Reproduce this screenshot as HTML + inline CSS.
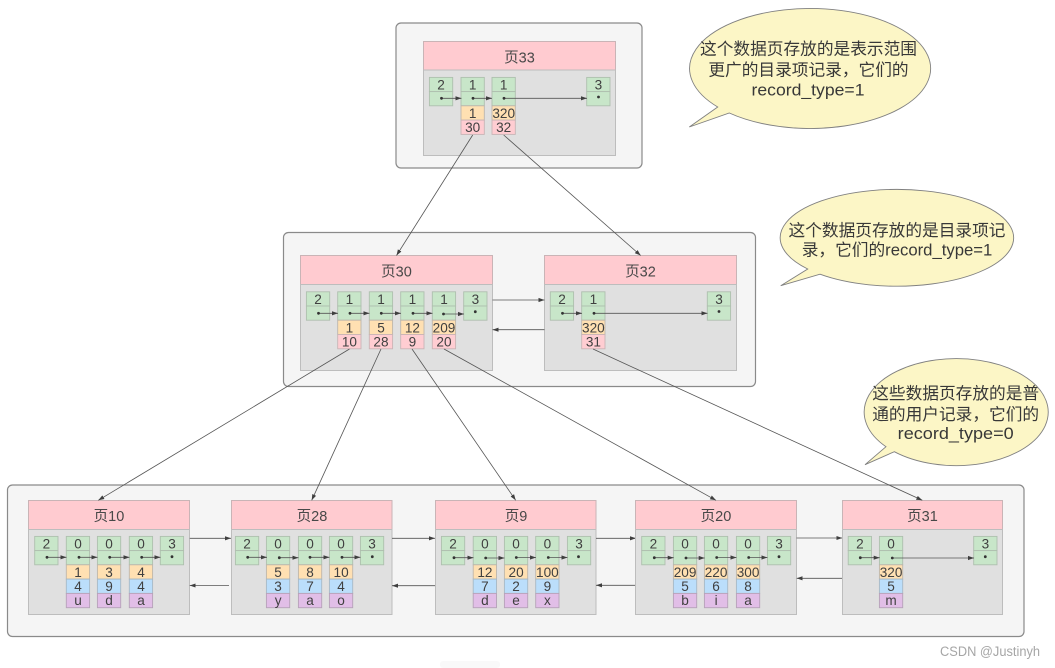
<!DOCTYPE html>
<html><head><meta charset="utf-8"><style>
html,body{margin:0;padding:0;background:#fff}
svg{display:block}
text{font-family:"Liberation Sans","Noto Sans CJK SC",sans-serif;fill:#404040;text-anchor:middle}
circle{r:1.4px}
.c text{font-size:13.6px}
.h{font-size:14.5px;fill:#484848}
.b{font-size:16.7px;fill:#383838}
.box{fill:#f5f5f5;stroke:#8a8a8a;stroke-width:1.2}
.hd{fill:#ffcbd0;stroke:#c9b4b6;stroke-width:1}
.bd{fill:#e0e0e0;stroke:#bdbdbd;stroke-width:1}
.l{stroke:#555;stroke-width:.8;fill:none;marker-end:url(#a)}
.bub{fill:#fcf6c6;stroke:#808080;stroke-width:.9}
.g{fill:#c8e6c9;stroke:#aebfae;stroke-width:.9}
.o{fill:#ffe0b2;stroke:#bdb6ac;stroke-width:.9}
.u{fill:#bbdefb;stroke:#a8b8c4;stroke-width:.9}
.p{fill:#e1bee7;stroke:#b5a2b8;stroke-width:.9}
.r{fill:#ffcdd2;stroke:#c9b4b6;stroke-width:.9}
</style></head><body>
<svg width="1055" height="668" viewBox="0 0 1055 668" xmlns="http://www.w3.org/2000/svg">
<defs>
<marker id="a" markerUnits="userSpaceOnUse" markerWidth="7" markerHeight="6" refX="6" refY="2.5" orient="auto"><path d="M0,0.4L6,2.5L0,4.6Z" fill="#3f3f3f"/></marker>
<g id="k"><rect class="g" width="23.3" height="14.2"/><rect class="g" y="14.2" width="23.3" height="14.2"/></g>
<rect id="O" class="o" y="28.4" width="23.3" height="14.3"/>
<rect id="U" class="u" y="42.7" width="23.3" height="14.3"/>
<rect id="P" class="p" y="57" width="23.3" height="14.3"/>
<rect id="R" class="r" y="42.7" width="23.3" height="14.3"/>
</defs>

<rect x="396" y="23" width="246" height="145" rx="5" class="box"/>
<rect x="283.5" y="232.5" width="472" height="154" rx="5" class="box"/>
<rect x="7.5" y="485" width="1016.5" height="151.5" rx="5" class="box"/>

<!-- Page 33 -->
<rect x="423.5" y="41.5" width="192" height="28.5" class="hd"/>
<rect x="423.5" y="70" width="192" height="85.5" class="bd"/>
<text class="h" x="519.5" y="62.5">页33</text>
<g class="c">
<g transform="translate(429.4,77.4)"><use href="#k"/><text x="11.7" y="12">2</text></g>
<g transform="translate(461,77.4)"><use href="#k"/><use href="#O"/><use href="#R"/><text x="11.7" y="12">1</text><text x="11.7" y="40.5">1</text><text x="11.7" y="54.8">30</text></g>
<g transform="translate(492,77.4)"><use href="#k"/><use href="#O"/><use href="#R"/><text x="11.7" y="12">1</text><text x="11.7" y="40.5">320</text><text x="11.7" y="54.8">32</text></g>
<g transform="translate(586.7,77.4)"><use href="#k"/><text x="11.7" y="12">3</text></g>
</g>
<path class="l" d="M441.5,98.3H461.5"/><path class="l" d="M473,98.3H492"/><path class="l" d="M504,98.3H587"/>
<g fill="#333"><circle cx="441.5" cy="98.3" r="1.2"/><circle cx="473" cy="98.3" r="1.2"/><circle cx="504" cy="98.3" r="1.2"/><circle cx="598.5" cy="97" r="1.2"/></g>

<!-- Page 30 -->
<rect x="300.5" y="255.5" width="192" height="29" class="hd"/>
<rect x="300.5" y="284.5" width="192" height="86" class="bd"/>
<text class="h" x="396.5" y="276.5">页30</text>
<g class="c">
<g transform="translate(306.4,291.8)"><use href="#k"/><text x="11.7" y="12">2</text></g>
<g transform="translate(337.7,291.8)"><use href="#k"/><use href="#O"/><use href="#R"/><text x="11.7" y="12">1</text><text x="11.7" y="40.5">1</text><text x="11.7" y="54.8">10</text></g>
<g transform="translate(369.3,291.8)"><use href="#k"/><use href="#O"/><use href="#R"/><text x="11.7" y="12">1</text><text x="11.7" y="40.5">5</text><text x="11.7" y="54.8">28</text></g>
<g transform="translate(400.7,291.8)"><use href="#k"/><use href="#O"/><use href="#R"/><text x="11.7" y="12">1</text><text x="11.7" y="40.5">12</text><text x="11.7" y="54.8">9</text></g>
<g transform="translate(432.3,291.8)"><use href="#k"/><use href="#O"/><use href="#R"/><text x="11.7" y="12">1</text><text x="11.7" y="40.5">209</text><text x="11.7" y="54.8">20</text></g>
<g transform="translate(463.7,291.8)"><use href="#k"/><text x="11.7" y="12">3</text></g>
</g>
<path class="l" d="M318.5,313.3H338"/><path class="l" d="M350,313.3H369.5"/><path class="l" d="M381.3,313.3H401"/><path class="l" d="M413,313.3H432.5"/><path class="l" d="M443.5,314H464"/>
<g fill="#333"><circle cx="318.5" cy="313.3" r="1.2"/><circle cx="350" cy="313.3" r="1.2"/><circle cx="381.3" cy="313.3" r="1.2"/><circle cx="413" cy="313.3" r="1.2"/><circle cx="443.5" cy="314" r="1.2"/><circle cx="475.3" cy="311.7" r="1.2"/></g>

<!-- Page 32 -->
<rect x="544.5" y="255.5" width="192" height="29" class="hd"/>
<rect x="544.5" y="284.5" width="192" height="86" class="bd"/>
<text class="h" x="640.5" y="276.5">页32</text>
<g class="c">
<g transform="translate(550.3,291.8)"><use href="#k"/><text x="11.7" y="12">2</text></g>
<g transform="translate(581.7,291.8)"><use href="#k"/><use href="#O"/><use href="#R"/><text x="11.7" y="12">1</text><text x="11.7" y="40.5">320</text><text x="11.7" y="54.8">31</text></g>
<g transform="translate(707.3,291.8)"><use href="#k"/><text x="11.7" y="12">3</text></g>
</g>
<path class="l" d="M562.5,313.3H582"/><path class="l" d="M594,313.3H707.5"/>
<g fill="#333"><circle cx="562.5" cy="313.3" r="1.2"/><circle cx="594" cy="313.3" r="1.2"/><circle cx="719" cy="311.5" r="1.2"/></g>
<path class="l" d="M492.5,300H544.5"/><path class="l" d="M544.5,329.7H492.5"/>

<!-- Page 10 -->
<rect x="28.5" y="500.5" width="161" height="29" class="hd"/>
<rect x="28.5" y="529.5" width="161" height="85" class="bd"/>
<text class="h" x="109" y="521">页10</text>
<g class="c">
<g transform="translate(34.7,536.4)"><use href="#k"/><text x="11.7" y="12">2</text></g>
<g transform="translate(66.3,536.4)"><use href="#k"/><use href="#O"/><use href="#U"/><use href="#P"/><text x="11.7" y="12">0</text><text x="11.7" y="40.5">1</text><text x="11.7" y="54.8">4</text><text x="11.7" y="68.6">u</text></g>
<g transform="translate(97.4,536.4)"><use href="#k"/><use href="#O"/><use href="#U"/><use href="#P"/><text x="11.7" y="12">0</text><text x="11.7" y="40.5">3</text><text x="11.7" y="54.8">9</text><text x="11.7" y="68.6">d</text></g>
<g transform="translate(129.3,536.4)"><use href="#k"/><use href="#O"/><use href="#U"/><use href="#P"/><text x="11.7" y="12">0</text><text x="11.7" y="40.5">4</text><text x="11.7" y="54.8">4</text><text x="11.7" y="68.6">a</text></g>
<g transform="translate(160.3,536.4)"><use href="#k"/><text x="11.7" y="12">3</text></g>
</g>
<path class="l" d="M47,557.3H66.5"/><path class="l" d="M79,557.3H97.5"/><path class="l" d="M109.7,557.3H129.5"/><path class="l" d="M141.7,557.3H160.5"/>
<g fill="#333"><circle cx="47" cy="557.3" r="1.2"/><circle cx="79" cy="557.3" r="1.2"/><circle cx="109.7" cy="557.3" r="1.2"/><circle cx="141.7" cy="557.3" r="1.2"/><circle cx="172" cy="556.7" r="1.2"/></g>
<path class="l" d="M189.7,538.3H231"/><path class="l" d="M229,585.5H189.7"/>

<!-- Page 28 -->
<rect x="231.5" y="500.5" width="160.5" height="29" class="hd"/>
<rect x="231.5" y="529.5" width="160.5" height="85" class="bd"/>
<text class="h" x="312" y="521">页28</text>
<g class="c">
<g transform="translate(235.4,536.4)"><use href="#k"/><text x="11.7" y="12">2</text></g>
<g transform="translate(266.4,536.4)"><use href="#k"/><use href="#O"/><use href="#U"/><use href="#P"/><text x="11.7" y="12">0</text><text x="11.7" y="40.5">5</text><text x="11.7" y="54.8">3</text><text x="11.7" y="68.6">y</text></g>
<g transform="translate(298.4,536.4)"><use href="#k"/><use href="#O"/><use href="#U"/><use href="#P"/><text x="11.7" y="12">0</text><text x="11.7" y="40.5">8</text><text x="11.7" y="54.8">7</text><text x="11.7" y="68.6">a</text></g>
<g transform="translate(329.4,536.4)"><use href="#k"/><use href="#O"/><use href="#U"/><use href="#P"/><text x="11.7" y="12">0</text><text x="11.7" y="40.5">10</text><text x="11.7" y="54.8">4</text><text x="11.7" y="68.6">o</text></g>
<g transform="translate(360.4,536.4)"><use href="#k"/><text x="11.7" y="12">3</text></g>
</g>
<path class="l" d="M247.7,557.3H267"/><path class="l" d="M279.3,557.7H298.5"/><path class="l" d="M310,557.3H329.5"/><path class="l" d="M342,557.3H360.5"/>
<g fill="#333"><circle cx="247.7" cy="557.3" r="1.2"/><circle cx="279.3" cy="557.7" r="1.2"/><circle cx="310" cy="557.3" r="1.2"/><circle cx="342" cy="557.3" r="1.2"/><circle cx="372.3" cy="556.7" r="1.2"/></g>
<path class="l" d="M392,538.3H435"/><path class="l" d="M435,585.7H392"/>

<!-- Page 9 -->
<rect x="435.5" y="500.5" width="160.5" height="29" class="hd"/>
<rect x="435.5" y="529.5" width="160.5" height="85" class="bd"/>
<text class="h" x="516" y="521">页9</text>
<g class="c">
<g transform="translate(441.4,536.4)"><use href="#k"/><text x="11.7" y="12">2</text></g>
<g transform="translate(473.2,536.4)"><use href="#k"/><use href="#O"/><use href="#U"/><use href="#P"/><text x="11.7" y="12">0</text><text x="11.7" y="40.5">12</text><text x="11.7" y="54.8">7</text><text x="11.7" y="68.6">d</text></g>
<g transform="translate(504.4,536.4)"><use href="#k"/><use href="#O"/><use href="#U"/><use href="#P"/><text x="11.7" y="12">0</text><text x="11.7" y="40.5">20</text><text x="11.7" y="54.8">2</text><text x="11.7" y="68.6">e</text></g>
<g transform="translate(535.7,536.4)"><use href="#k"/><use href="#O"/><use href="#U"/><use href="#P"/><text x="11.7" y="12">0</text><text x="11.7" y="40.5">100</text><text x="11.7" y="54.8">9</text><text x="11.7" y="68.6">x</text></g>
<g transform="translate(567.4,536.4)"><use href="#k"/><text x="11.7" y="12">3</text></g>
</g>
<path class="l" d="M454,557.7H473.5"/><path class="l" d="M485.7,558H504.5"/><path class="l" d="M516.3,557.5H536"/><path class="l" d="M548.3,557.5H567.5"/>
<g fill="#333"><circle cx="454" cy="557.7" r="1.2"/><circle cx="485.7" cy="558" r="1.2"/><circle cx="516.3" cy="557.5" r="1.2"/><circle cx="548.3" cy="557.5" r="1.2"/><circle cx="578.5" cy="556.7" r="1.2"/></g>
<path class="l" d="M596,538.3H636"/><path class="l" d="M635.5,585.3H596"/>

<!-- Page 20 -->
<rect x="635.5" y="500.5" width="161" height="29" class="hd"/>
<rect x="635.5" y="529.5" width="161" height="85" class="bd"/>
<text class="h" x="716" y="521">页20</text>
<g class="c">
<g transform="translate(641.7,536.4)"><use href="#k"/><text x="11.7" y="12">2</text></g>
<g transform="translate(673.4,536.4)"><use href="#k"/><use href="#O"/><use href="#U"/><use href="#P"/><text x="11.7" y="12">0</text><text x="11.7" y="40.5">209</text><text x="11.7" y="54.8">5</text><text x="11.7" y="68.6">b</text></g>
<g transform="translate(704.4,536.4)"><use href="#k"/><use href="#O"/><use href="#U"/><use href="#P"/><text x="11.7" y="12">0</text><text x="11.7" y="40.5">220</text><text x="11.7" y="54.8">6</text><text x="11.7" y="68.6">i</text></g>
<g transform="translate(736.4,536.4)"><use href="#k"/><use href="#O"/><use href="#U"/><use href="#P"/><text x="11.7" y="12">0</text><text x="11.7" y="40.5">300</text><text x="11.7" y="54.8">8</text><text x="11.7" y="68.6">a</text></g>
<g transform="translate(767.4,536.4)"><use href="#k"/><text x="11.7" y="12">3</text></g>
</g>
<path class="l" d="M654.3,557.7H673.7"/><path class="l" d="M686,558H704.7"/><path class="l" d="M716.7,557.5H736.5"/><path class="l" d="M748.7,557.5H767.5"/>
<g fill="#333"><circle cx="654.3" cy="557.7" r="1.2"/><circle cx="686" cy="558" r="1.2"/><circle cx="716.7" cy="557.5" r="1.2"/><circle cx="748.7" cy="557.5" r="1.2"/><circle cx="779" cy="556.7" r="1.2"/></g>
<path class="l" d="M796.5,538H842.3"/><path class="l" d="M842.3,578.3H796.7"/>

<!-- Page 31 -->
<rect x="842.5" y="500.5" width="160" height="29" class="hd"/>
<rect x="842.5" y="529.5" width="160" height="85" class="bd"/>
<text class="h" x="922.5" y="521">页31</text>
<g class="c">
<g transform="translate(848.2,536.4)"><use href="#k"/><text x="11.7" y="12">2</text></g>
<g transform="translate(879.4,536.4)"><use href="#k"/><use href="#O"/><use href="#U"/><use href="#P"/><text x="11.7" y="12">0</text><text x="11.7" y="40.5">320</text><text x="11.7" y="54.8">5</text><text x="11.7" y="68.6">m</text></g>
<g transform="translate(973.7,536.4)"><use href="#k"/><text x="11.7" y="12">3</text></g>
</g>
<path class="l" d="M860.3,557.7H879.7"/><path class="l" d="M892.3,558H974"/>
<g fill="#333"><circle cx="860.3" cy="557.7" r="1.2"/><circle cx="892.3" cy="558" r="1.2"/><circle cx="985.3" cy="556.7" r="1.2"/></g>

<!-- Tree connectors -->
<path class="l" d="M472.7,135L396.5,255.5"/>
<path class="l" d="M503.7,135L640.7,255.5"/>
<path class="l" d="M349.5,349L98.3,500.3"/>
<path class="l" d="M381,349L311.7,500.3"/>
<path class="l" d="M412,349L515.7,500.3"/>
<path class="l" d="M444,349L716,500.3"/>
<path class="l" d="M593,349L922.3,500.3"/>

<!-- Callouts -->
<path class="bub" d="M689.3,127L717.7,107A120.5,60 0 1 1 729.3,113Z"/>
<text class="b" x="808.5" y="54.5">这个数据页存放的是表示范围</text>
<text class="b" x="808.5" y="75.5">更广的目录项记录，它们的</text>
<text class="b" x="808" y="95.7" textLength="113" lengthAdjust="spacingAndGlyphs">record_type=1</text>

<path class="bub" d="M780.7,285.7L807.7,269A116.7,48.4 0 1 1 820,274.2Z"/>
<text class="b" x="897" y="236">这个数据页存放的是目录项记</text>
<text class="b" x="897" y="255.5">录，它们的record_type=1</text>

<path class="bub" d="M865,464.7L886,446.7A92,53.5 0 1 1 894.3,451.7Z"/>
<text class="b" x="955.7" y="399">这些数据页存放的是普</text>
<text class="b" x="955.7" y="420">通的用户记录，它们的</text>
<text class="b" x="955.7" y="439" textLength="116" lengthAdjust="spacingAndGlyphs">record_type=0</text>

<rect x="440" y="661" width="60" height="7" rx="3" fill="#f9f9f9"/>
<text x="990" y="656" style="font-size:13.5px;fill:#a6a6a6" textLength="100" lengthAdjust="spacingAndGlyphs">CSDN @Justinyh</text>
</svg>
</body></html>
